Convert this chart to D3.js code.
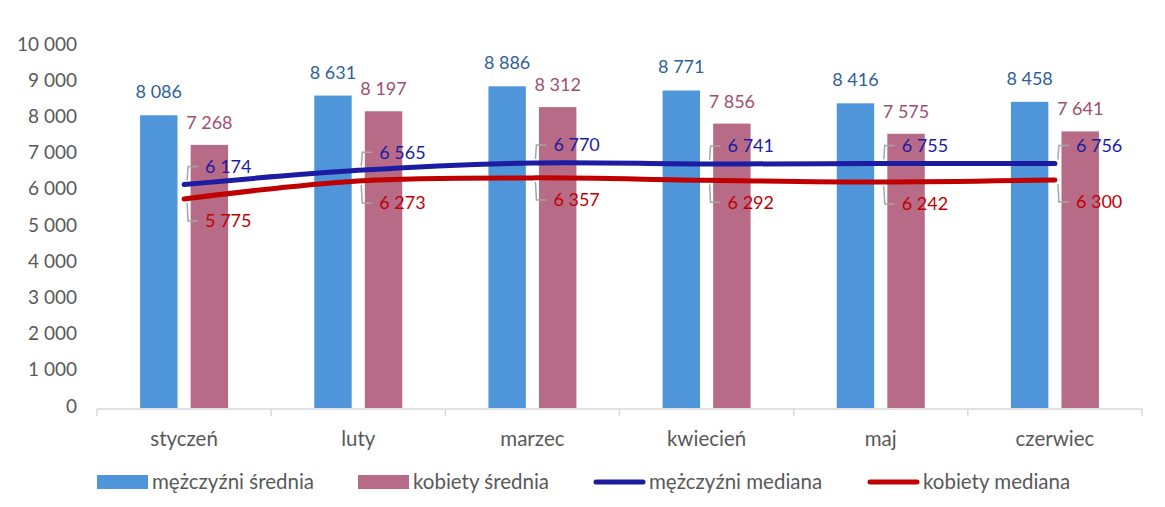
<!DOCTYPE html>
<html>
<head>
<meta charset="utf-8">
<script src="https://cdn.jsdelivr.net/npm/d3@7"></script>
<style>
  html, body { margin: 0; padding: 0; background: #fff; }
  svg { display: block; font-family: Lato, "Liberation Sans", sans-serif; }
</style>
</head>
<body>
<svg id="chart" width="1165" height="507"></svg>
<script>
const categories = ["styczeń", "luty", "marzec", "kwiecień", "maj", "czerwiec"];
const menMean = [8086, 8631, 8886, 8771, 8416, 8458];
const womenMean = [7268, 8197, 8312, 7856, 7575, 7641];
const menMedian = [6174, 6565, 6770, 6741, 6755, 6756];
const womenMedian = [5775, 6273, 6357, 6292, 6242, 6300];
const yTicks = [0, 1000, 2000, 3000, 4000, 5000, 6000, 7000, 8000, 9000, 10000];
const legendLabels = ["mężczyźni średnia", "kobiety średnia", "mężczyźni mediana", "kobiety mediana"];

(function () {
const fmt = v => d3.format(",")(v).replace(/,/g, " ");

const svg = d3.select("#chart");
const pLeft = 97, pRight = 1142, pTop = 46, pBottom = 408;

const x = d3.scaleBand().domain(categories).range([pLeft, pRight]).paddingInner(0).paddingOuter(0);
const y = d3.scaleLinear().domain([0, 10000]).range([pBottom, pTop]);
const xs = d3.scaleBand().domain(["m", "k"]).range([-44, 44]).paddingInner(0.26).paddingOuter(0);

const C = {
  blueBar: "#4f95d9", pinkBar: "#b76b86",
  blueLbl: "#2f5f9a", pinkLbl: "#a0506e",
  blueLine: "#1c1ca3", redLine: "#c00000",
  axis: "#d9d9d9", text: "#595959", leader: "#a6a6a6"
};

// Y axis labels
svg.append("g").selectAll("text").data(yTicks).join("text")
  .attr("x", 77).attr("y", d => y(d) - 2).attr("dy", "0.35em")
  .attr("text-anchor", "end").attr("font-size", 19).attr("fill", C.text)
  .text(d => fmt(d));

// Bars
const cx = d => x(d) + x.bandwidth() / 2;
const gBars = svg.append("g");
gBars.selectAll("rect.m").data(categories).join("rect").attr("class", "m")
  .attr("x", d => cx(d) + xs("m")).attr("width", xs.bandwidth())
  .attr("y", (d, i) => y(menMean[i])).attr("height", (d, i) => y(0) - y(menMean[i]))
  .attr("fill", C.blueBar);
gBars.selectAll("rect.k").data(categories).join("rect").attr("class", "k")
  .attr("x", d => cx(d) + xs("k")).attr("width", xs.bandwidth())
  .attr("y", (d, i) => y(womenMean[i])).attr("height", (d, i) => y(0) - y(womenMean[i]))
  .attr("fill", C.pinkBar);

// X axis
const xAxis = svg.append("g");
xAxis.append("line").attr("x1", pLeft).attr("x2", pRight).attr("y1", pBottom + 1).attr("y2", pBottom + 1)
  .attr("stroke", C.axis).attr("stroke-width", 1.5);
const edges = categories.map(d => x(d)).concat([pRight]);
xAxis.selectAll("line.t").data(edges).join("line").attr("class", "t")
  .attr("x1", d => d).attr("x2", d => d).attr("y1", pBottom + 1).attr("y2", pBottom + 8)
  .attr("stroke", C.axis).attr("stroke-width", 1.5);
xAxis.selectAll("text").data(categories).join("text")
  .attr("x", d => cx(d)).attr("y", 446).attr("text-anchor", "middle")
  .attr("font-size", 20.5).attr("fill", C.text).text(d => d);

// Bar labels
svg.append("g").selectAll("text").data(categories).join("text")
  .attr("x", d => cx(d) + xs("m") + xs.bandwidth() / 2).attr("y", (d, i) => y(menMean[i]) - 17)
  .attr("text-anchor", "middle").attr("font-size", 18).attr("fill", C.blueLbl)
  .text((d, i) => fmt(menMean[i]));
svg.append("g").selectAll("text").data(categories).join("text")
  .attr("x", d => cx(d) + xs("k") + xs.bandwidth() / 2).attr("y", (d, i) => y(womenMean[i]) - 16)
  .attr("text-anchor", "middle").attr("font-size", 18).attr("fill", C.pinkLbl)
  .text((d, i) => fmt(womenMean[i]));

// Lines
const line = d3.line().x((d, i) => cx(categories[i])).y(d => y(d)).curve(d3.curveCatmullRom.alpha(0.5));
svg.append("path").datum(womenMedian).attr("d", line).attr("fill", "none")
  .attr("stroke", C.redLine).attr("stroke-width", 5).attr("stroke-linecap", "round");
svg.append("path").datum(menMedian).attr("d", line).attr("fill", "none")
  .attr("stroke", C.blueLine).attr("stroke-width", 5).attr("stroke-linecap", "round");

// Median labels with leader lines
function medLabels(data, dir, color) {
  const g = svg.append("g");
  const off = dir < 0 ? -18 : 22;
  data.forEach((v, i) => {
    const px = cx(categories[i]), py = y(v);
    const ly = py + off;
    g.append("polyline")
      .attr("points", [[px + 3, py + dir * 4], [px + 4, ly], [px + 14, ly]].map(p => p.join(",")).join(" "))
      .attr("fill", "none").attr("stroke", C.leader).attr("stroke-width", 1.5);
    g.append("text").attr("x", px + 21).attr("y", ly).attr("dy", "0.35em")
      .attr("font-size", 18).attr("fill", color).text(fmt(v));
  });
}
medLabels(menMedian, -1, C.blueLine);
medLabels(womenMedian, 1, C.redLine);

// Legend
const legendX = [97, 358, 594, 868];
const lg = svg.append("g");
legendLabels.forEach((t, i) => {
  const lx = legendX[i], ly = 482;
  if (i < 2) {
    lg.append("rect").attr("x", lx).attr("y", ly - 7).attr("width", 51).attr("height", 14)
      .attr("fill", i === 0 ? C.blueBar : C.pinkBar);
  } else {
    lg.append("line").attr("x1", lx + 2).attr("x2", lx + 49).attr("y1", ly).attr("y2", ly)
      .attr("stroke", i === 2 ? C.blueLine : C.redLine).attr("stroke-width", 5).attr("stroke-linecap", "round");
  }
  lg.append("text").attr("x", lx + 55).attr("y", ly).attr("dy", "0.35em")
    .attr("font-size", 20.5).attr("fill", C.text).text(t);
});
})();
</script>
</body>
</html>
